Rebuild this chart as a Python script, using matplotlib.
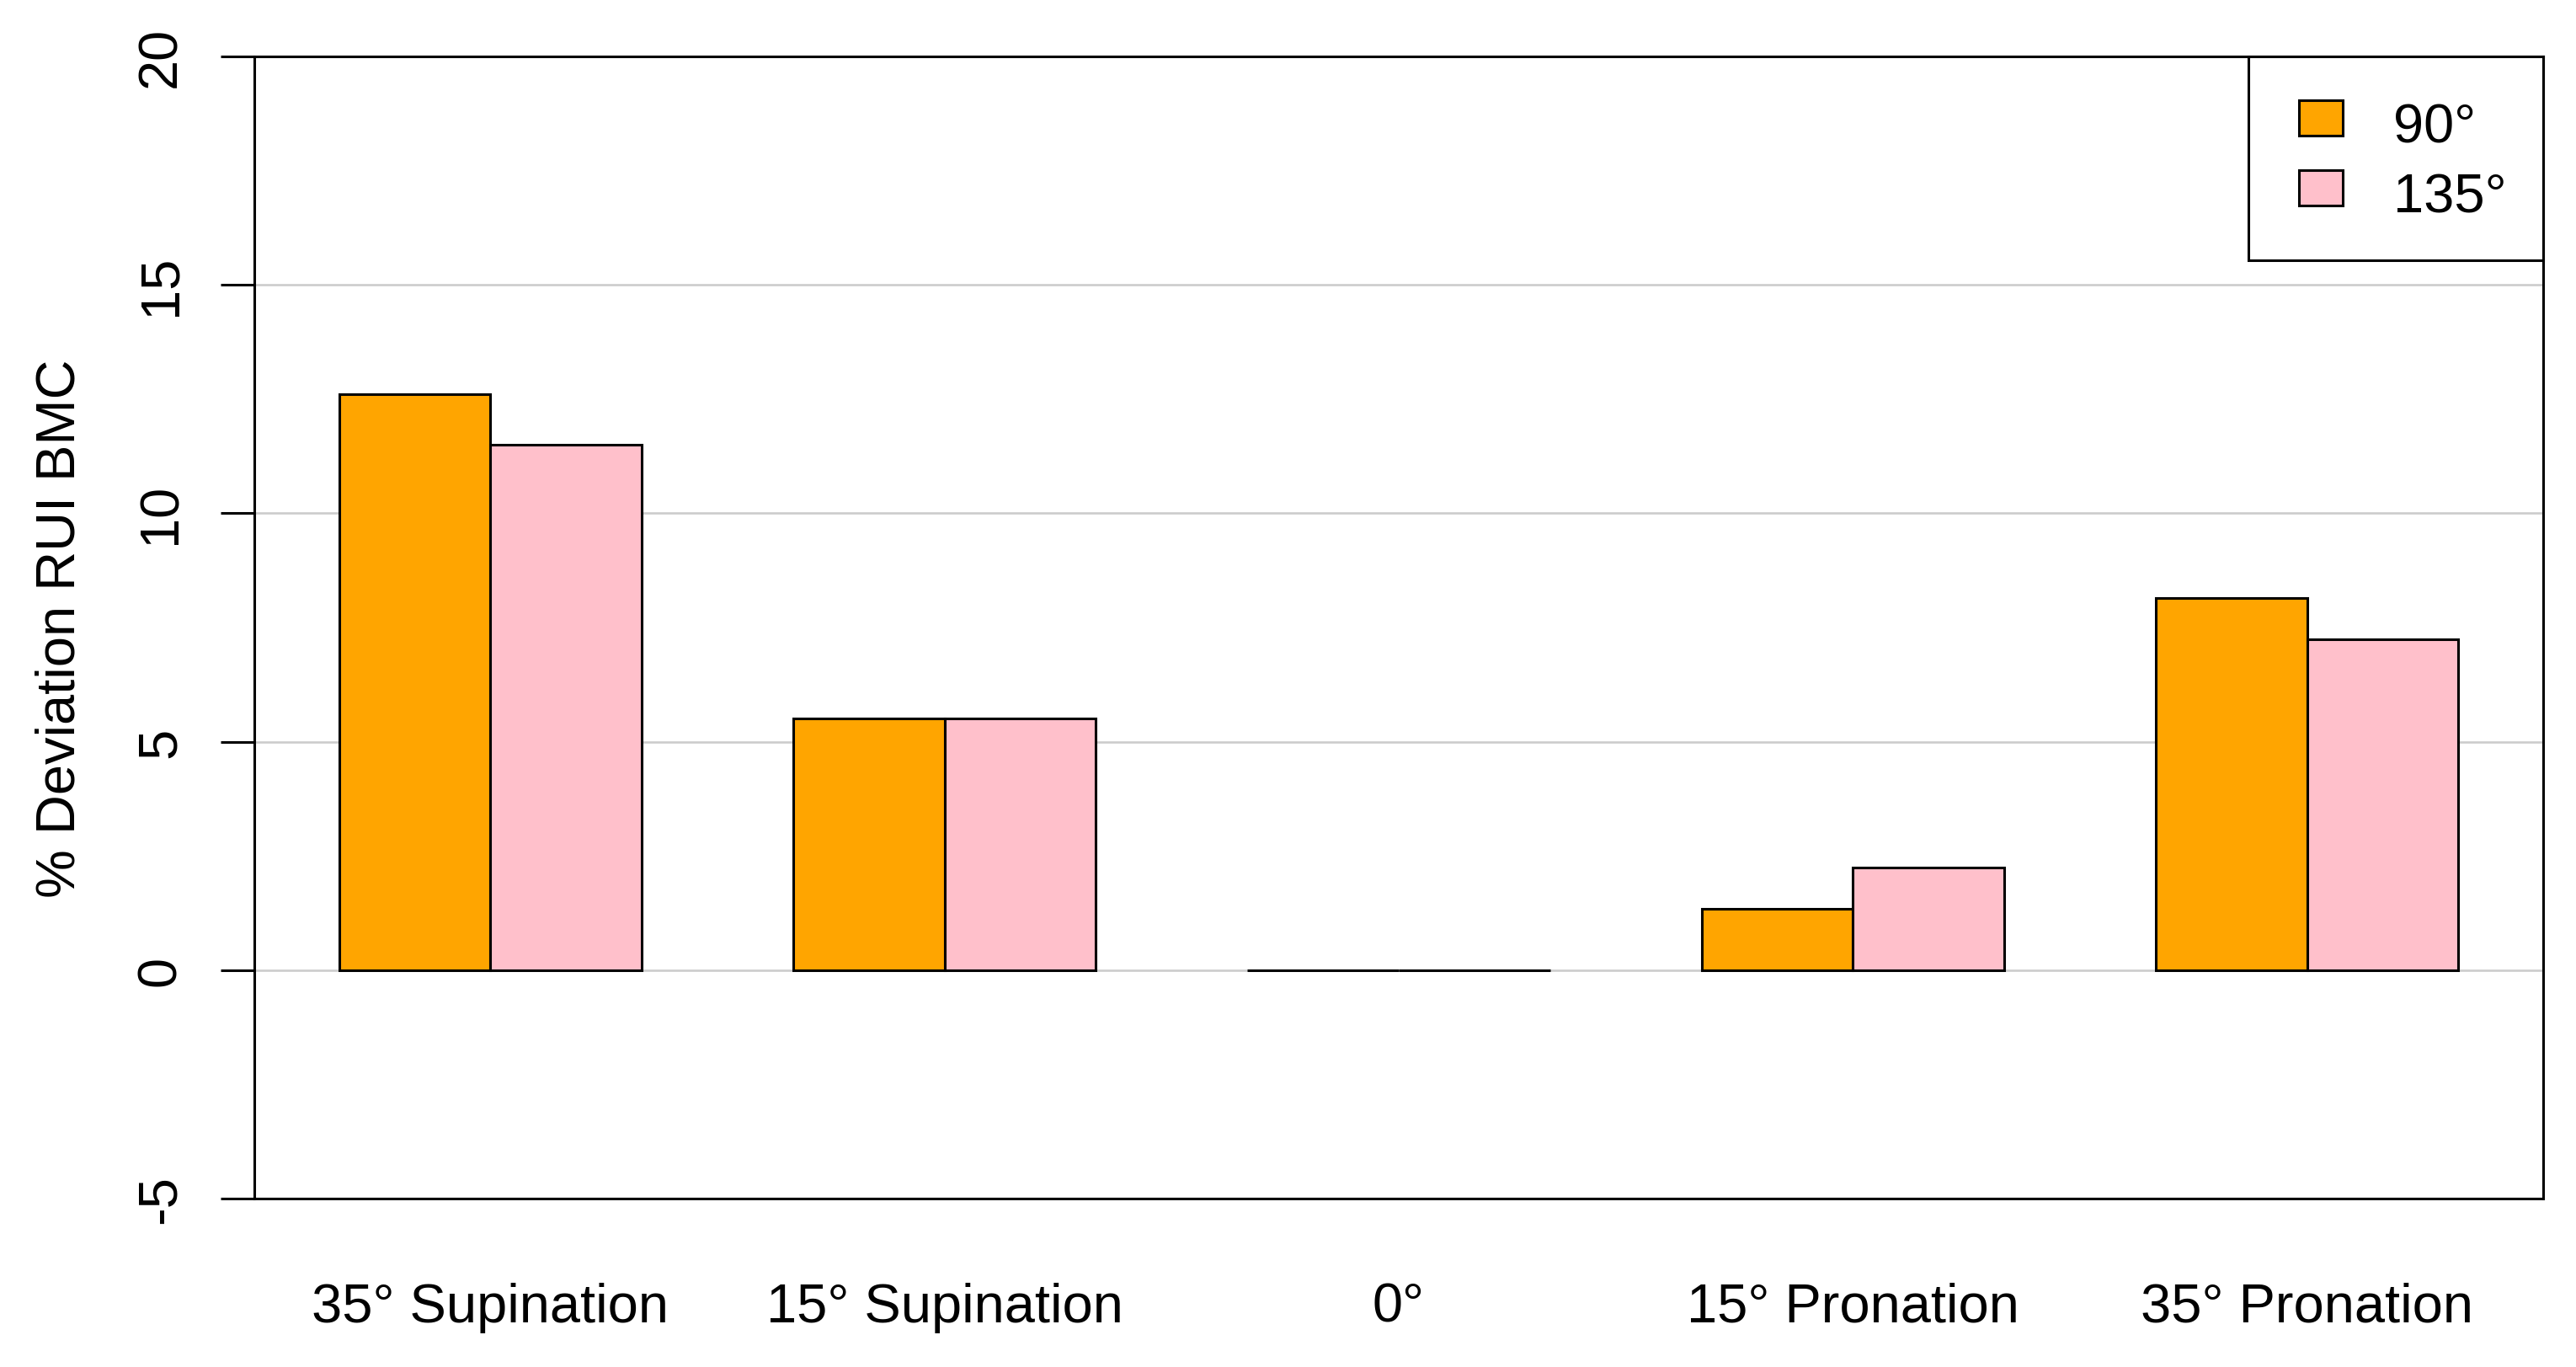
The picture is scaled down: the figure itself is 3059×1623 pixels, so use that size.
import matplotlib
matplotlib.use("Agg")
import matplotlib.pyplot as plt
from matplotlib.patches import Rectangle
from matplotlib.legend_handler import HandlerPatch
import numpy as np

categories = ["35° Supination", "15° Supination", "0°", "15° Pronation", "35° Pronation"]
series_names = ["90°", "135°"]
values_90 = [12.6, 5.5, 0.0, 1.35, 8.15]
values_135 = [11.5, 5.5, 0.0, 2.25, 7.25]
colors = ["#FFA500", "#FFC0CB"]
yticks = [-5, 0, 5, 10, 15, 20]

plt.rcParams['font.family'] = ['Liberation Sans', 'DejaVu Sans']

W, H, DPI = 3059, 1624, 100
fig = plt.figure(figsize=(W / DPI, H / DPI), dpi=DPI)
L, R, T, B = 302, 3020, 68, 1424
ax = fig.add_axes([L / W, 1 - B / H, (R - L) / W, (B - T) / H])

FS = 46.8
LW = 2.2

# R barplot(beside=TRUE) geometry: width 1, space c(0,1)
n = len(categories)
group_left = 1 + 3 * np.arange(n)
centers = group_left + 1.0

ax.set_axisbelow(True)
for yv in yticks[1:-1]:
    ax.axhline(yv, color="#cccccc", lw=1.9, zorder=0)

b1 = ax.bar(group_left + 0.5, values_90, width=1.0, color=colors[0],
            edgecolor="black", linewidth=LW, label=series_names[0], zorder=2)
b2 = ax.bar(group_left + 1.5, values_135, width=1.0, color=colors[1],
            edgecolor="black", linewidth=LW, label=series_names[1], zorder=2)

ax.set_xlim(0.44, 15.56)
ax.set_ylim(-5, 20)

ax.set_yticks(yticks)
ax.set_yticklabels([str(t) for t in yticks], rotation=90, va="center", fontsize=FS)
ax.tick_params(axis="y", length=28.8, width=LW, pad=29.5, direction="out")

ax.set_xticks(centers)
ax.set_xticklabels(categories, fontsize=FS)
ax.tick_params(axis="x", length=0, pad=71)

for s in ax.spines.values():
    s.set_linewidth(LW)
    s.set_color("black")

ax.set_ylabel("% Deviation RUI BMC", fontsize=FS)
ax.yaxis.set_label_coords((102 - L) / (R - L), 0.5)


def make_patch(legend, orig_handle, xdescent, ydescent, width, height, fontsize):
    off = 16.5 * 0.72
    return Rectangle((-xdescent + off, 5.0), width - off, 30.2)


leg = ax.legend(handles=[b1.patches[0], b2.patches[0]], labels=series_names,
                loc="upper right", fontsize=FS,
                frameon=True, fancybox=False, edgecolor="black", framealpha=1,
                borderaxespad=0, borderpad=0.67, handlelength=1.054,
                handleheight=1.32, handletextpad=0.92, labelspacing=0.176,
                handler_map={Rectangle: HandlerPatch(patch_func=make_patch)})
leg.get_frame().set_linewidth(LW)

fig.savefig("out.png", dpi=DPI)
